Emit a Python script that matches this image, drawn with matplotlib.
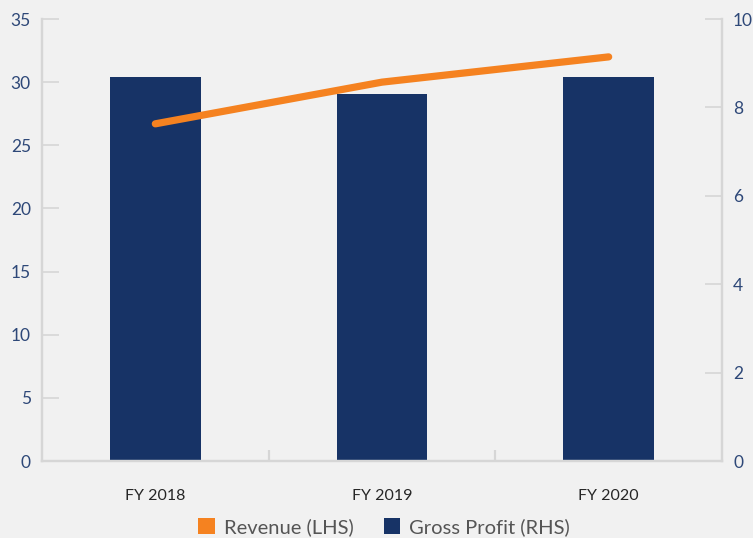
import matplotlib
matplotlib.use("Agg")
import matplotlib.pyplot as plt
from matplotlib.patches import Patch

plt.rcParams['font.family'] = ['Lato', 'DejaVu Sans']

categories = ["FY 2018", "FY 2019", "FY 2020"]
revenue = [26.7, 30.0, 32.0]          # left axis
gross_profit = [8.69, 8.30, 8.69]     # right axis
left_ticks = [0, 5, 10, 15, 20, 25, 30, 35]
right_ticks = [0, 2, 4, 6, 8, 10]

BG = "#F1F1F1"
ORANGE = "#F58220"
NAVY = "#173366"
SPINE = "#D6D6D6"
TICK_BLUE = "#2E4878"

fig = plt.figure(figsize=(7.53, 5.38), dpi=100, facecolor=BG)
ax = fig.add_axes([42 / 753, 77 / 538, 680 / 753, 442 / 538])
ax2 = ax.twinx()

x = list(range(len(categories)))

ax2.bar(x, gross_profit, width=0.40, color=NAVY, zorder=2)
ax.plot(x, revenue, color=ORANGE, lw=5.2, solid_capstyle="round",
        solid_joinstyle="round", zorder=3)

# draw the line axes above the bar axes
ax.set_zorder(ax2.get_zorder() + 1)
ax.patch.set_visible(False)
ax2.patch.set_facecolor(BG)

ax.set_xlim(-0.5, len(categories) - 0.5)
ax.set_ylim(0, 35)
ax2.set_ylim(0, 10)
ax.set_yticks(left_ticks)
ax2.set_yticks(right_ticks)

for a in (ax, ax2):
    for s in a.spines.values():
        s.set_color(SPINE)
        s.set_linewidth(1.6)
    a.spines["top"].set_visible(False)

ax.tick_params(axis="y", direction="in", length=12.5, width=1.2, color=SPINE,
               labelcolor=TICK_BLUE, labelsize=12.5, pad=8)
ax2.tick_params(axis="y", direction="in", length=12.5, width=1.2, color=SPINE,
                labelcolor=TICK_BLUE, labelsize=12.5, pad=8)

ax.set_xticks(x)
ax.set_xticklabels(categories)
ax.tick_params(axis="x", which="major", length=0, labelsize=11.5,
               labelcolor="#262626", pad=20)
ax.set_xticks([0.5, 1.5], minor=True)
ax.tick_params(axis="x", which="minor", direction="in", length=8,
               width=1.6, color=SPINE)

handles = [Patch(facecolor=ORANGE, edgecolor="none", label="Revenue (LHS)"),
           Patch(facecolor=NAVY, edgecolor="none", label="Gross Profit (RHS)")]
fig.legend(handles=handles, loc="center", bbox_to_anchor=(384 / 753, 1 - 527 / 538),
           ncol=2, frameon=False, fontsize=14.5, handlelength=0.8,
           handleheight=0.8, handletextpad=0.45, columnspacing=1.5,
           labelcolor="#555555")

fig.savefig("out.png", dpi=100, facecolor=BG)
